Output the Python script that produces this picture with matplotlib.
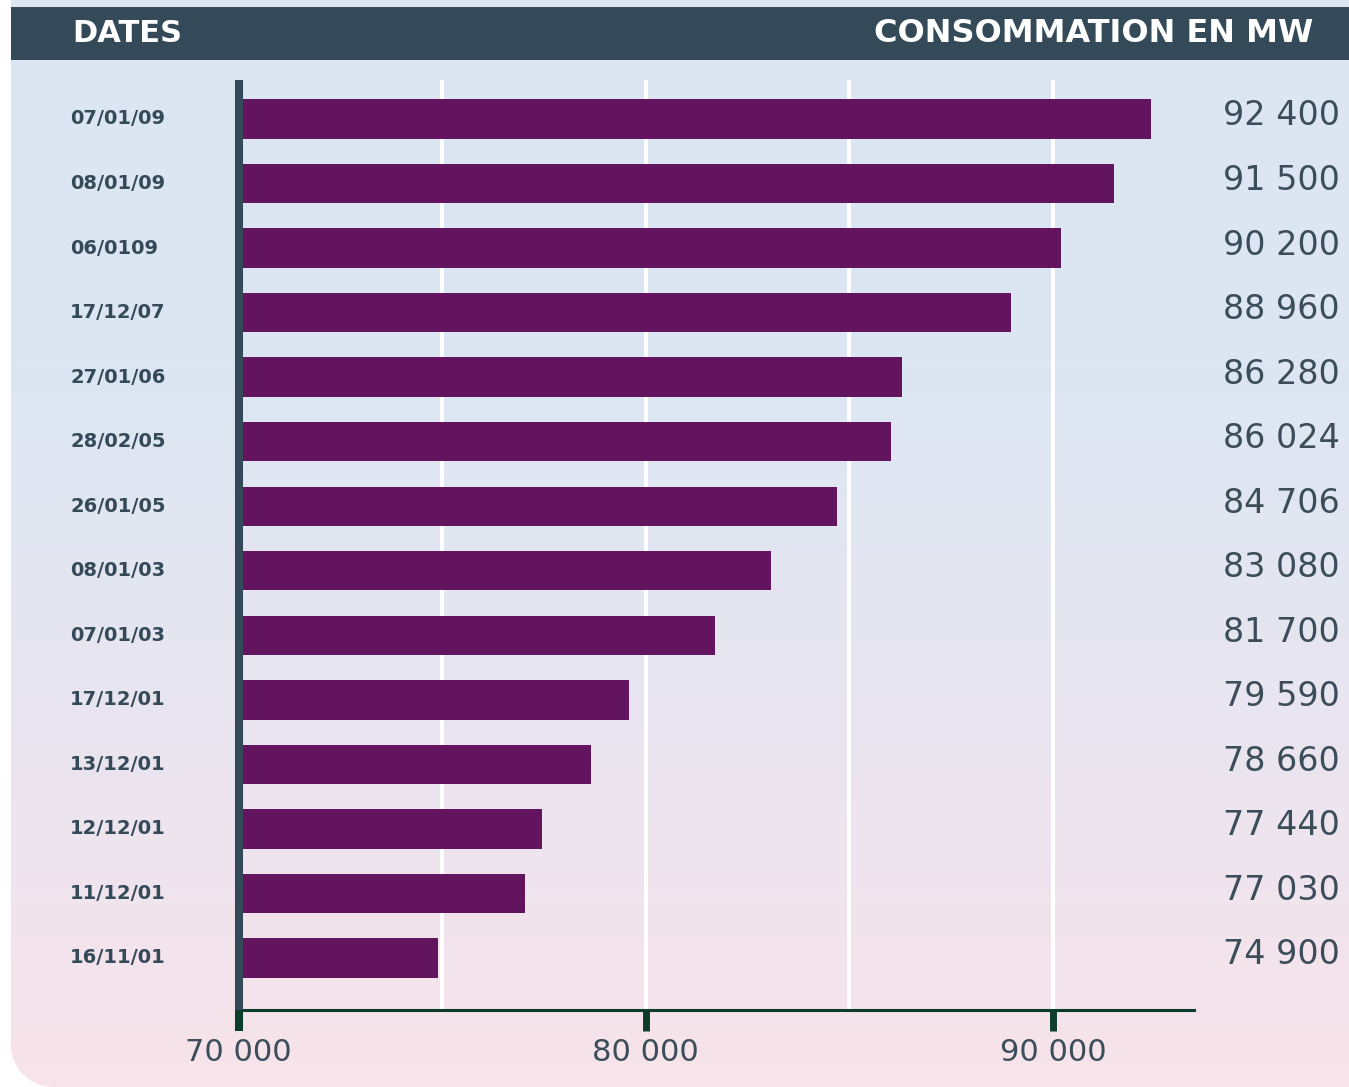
import numpy as np
import matplotlib.pyplot as plt
from matplotlib.patches import Rectangle, Polygon
from matplotlib.colors import LinearSegmentedColormap

# Peak electricity consumption records (MW)
dates = ['07/01/09', '08/01/09', '06/0109', '17/12/07', '27/01/06', '28/02/05',
         '26/01/05', '08/01/03', '07/01/03', '17/12/01', '13/12/01', '12/12/01',
         '11/12/01', '16/11/01']
consumption = [92400, 91500, 90200, 88960, 86280, 86024, 84706, 83080,
               81700, 79590, 78660, 77440, 77030, 74900]
major_ticks = [70000, 80000, 90000]
grid_ticks = [75000, 80000, 85000, 90000]

SLATE = '#344a58'
PURPLE = '#63145e'
GREEN = '#0b3d2a'
TEXT = '#3b4d59'

W, H = 1349, 1087
fig = plt.figure(figsize=(W / 100, H / 100), dpi=100)
fig.patch.set_facecolor('white')

# --- background panel: blue to pink gradient, rounded bottom-left corner ---
bg = fig.add_axes([0, 0, 1, 1], zorder=0)
bg.axis('off')
cmap = LinearSegmentedColormap.from_list('bg', ['#f8e3ea', '#e9e5f0', '#dce7f3', '#dbe6f2'])
grad = np.linspace(0, 1, 256).reshape(-1, 1)
im = bg.imshow(grad, cmap=cmap, origin='lower', extent=[0, W, 0, H], aspect='auto')

r, x0 = 42, 11
t = np.linspace(np.pi, 1.5 * np.pi, 30)
corner = np.column_stack([x0 + r + r * np.cos(t), r + r * np.sin(t)])
outline = np.vstack([[x0, H + 10], corner, [W + 10, 0], [W + 10, H + 10]])
panel = Polygon(outline, closed=True, transform=bg.transData,
                facecolor='none', edgecolor='none')
bg.add_patch(panel)
im.set_clip_path(panel)

# header band
bg.add_patch(Rectangle((11, H - 60), W - 11, 53, facecolor=SLATE, edgecolor='none'))
bg.text(72, H - 33, 'DATES', color='white', fontsize=22, fontweight='bold',
        ha='left', va='center')
bg.text(1313, H - 33, 'CONSOMMATION EN MW', color='white', fontsize=23,
        fontweight='bold', ha='right', va='center')
bg.set_xlim(0, W)
bg.set_ylim(0, H)

# --- bar chart ---
left, right = 238.5, 1194
top, bottom = 80, 1010
ax = fig.add_axes([left / W, 1 - bottom / H, (right - left) / W, (bottom - top) / H], zorder=1)
ax.patch.set_alpha(0)

y = np.arange(len(dates))
ax.barh(y, np.array(consumption) - 70000, left=70000, height=0.61, color=PURPLE, zorder=3)
ax.set_xlim(70000, 93460)
ax.set_ylim(len(dates) - 1 + 0.806, -0.604)

ax.set_xticks(major_ticks)
ax.set_xticklabels([f'{v:,}'.replace(',', ' ') for v in major_ticks])
ax.set_xticks(grid_ticks, minor=True)
ax.grid(False)
for g in grid_ticks:
    ax.axvline(g, color='white', lw=2.9, zorder=1)

ax.tick_params(axis='x', which='major', direction='out', length=15, width=5,
               color=GREEN, labelsize=22, labelcolor=TEXT, pad=5)
ax.tick_params(axis='x', which='minor', length=0)
ax.xaxis.get_major_ticks()[0].tick1line.set_color(SLATE)
ax.xaxis.get_major_ticks()[0].tick1line.set_markeredgewidth(5.8)
ax.set_yticks([])

for s in ['top', 'right']:
    ax.spines[s].set_visible(False)
ax.spines['bottom'].set_color(GREEN)
ax.spines['bottom'].set_linewidth(2.2)
ax.spines['left'].set_color(SLATE)
ax.spines['left'].set_linewidth(5.8)
ax.spines['left'].set_capstyle('butt')
ax.spines['left'].set_zorder(4)

# date labels on the left and values on the right
for yi, d, v in zip(y, dates, consumption):
    ax.annotate(d, xy=(0, yi), xycoords=('figure pixels', 'data'),
                xytext=(70, 0), textcoords='offset pixels',
                ha='left', va='center', fontsize=14, fontweight='bold', color=SLATE)
    ax.annotate(f'{v:,}'.replace(',', ' '), xy=(0, yi), xycoords=('figure pixels', 'data'),
                xytext=(1340, 3), textcoords='offset pixels',
                ha='right', va='center', fontsize=24, color=TEXT)

fig.savefig('out.png', dpi=100)
